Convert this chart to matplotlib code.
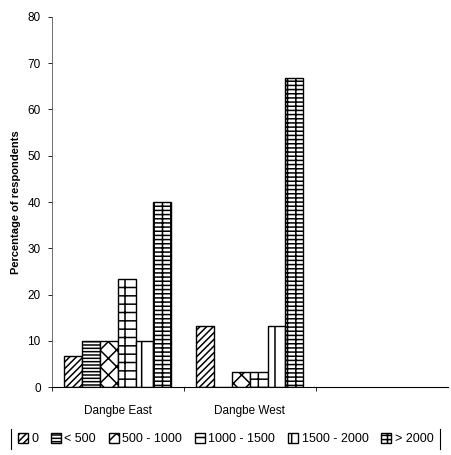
"""Income distribution of respondents by district, patterned bar chart."""

import matplotlib

matplotlib.use("Agg")
import matplotlib.pyplot as plt
import numpy as np
from matplotlib.lines import Line2D

plt.rcParams["font.family"] = ["Liberation Sans", "DejaVu Sans"]
plt.rcParams["hatch.linewidth"] = 1.1

categories = ["Dangbe East", "Dangbe West"]
income_groups = ["0", "< 500", "500 - 1000", "1000 - 1500", "1500 - 2000", "> 2000"]
east = [6.7, 10.0, 10.0, 23.3, 10.0, 40.0]
west = [13.3, 0.0, 3.3, 3.3, 13.3, 66.7]
hatches = ["/////", "-----", "xx", "--|", "|", "++--"]

fig = plt.figure(figsize=(4.51, 4.55), dpi=100)
ax = fig.add_axes([0.115, 0.149, 0.878, 0.814])

values = np.array([east, west])
x = np.arange(len(categories))
width = 0.135
handles = []
for i, label in enumerate(income_groups):
    bars = ax.bar(
        x + (i - 2.5) * width,
        values[:, i],
        width,
        color="white",
        edgecolor="black",
        linewidth=1.0,
        hatch=hatches[i],
        label=label,
    )
    handles.append(bars)

ax.set_xlim(-0.5, 2.5)
ax.set_ylim(0, 80)
ax.set_yticks(range(0, 81, 10))
ax.tick_params(axis="y", direction="out", length=3, width=0.6, labelsize=8.5, pad=5)
ax.set_xticks([-0.5, 0.5, 1.5])
ax.set_xticklabels([])
ax.set_xticks(x, minor=True)
ax.set_xticklabels(categories, minor=True, fontsize=8.5)
ax.tick_params(axis="x", which="major", direction="out", length=3, width=0.6)
ax.tick_params(axis="x", which="minor", length=0, pad=13)
for side in ["top", "right"]:
    ax.spines[side].set_visible(False)
ax.spines["left"].set_linewidth(0.6)
ax.spines["left"].set_color("#555555")
ax.spines["bottom"].set_linewidth(0.8)
ax.set_ylabel("Percentage of respondents", fontsize=8, fontweight="bold", labelpad=5)

leg = fig.legend(
    handles=handles,
    labels=income_groups,
    loc="center",
    bbox_to_anchor=(0.5, 0.035),
    ncol=6,
    frameon=False,
    fontsize=9,
    handlelength=0.8,
    handleheight=0.8,
    handletextpad=0.3,
    columnspacing=1.0,
    borderpad=0.3,
)

fig.canvas.draw()
bb = leg.get_window_extent().transformed(fig.transFigure.inverted())
for xe in (bb.x0 - 0.005, bb.x1 + 0.005):
    fig.add_artist(Line2D([xe, xe], [bb.y0, bb.y1], color="black", linewidth=0.8))

fig.savefig("out.png", dpi=100)
